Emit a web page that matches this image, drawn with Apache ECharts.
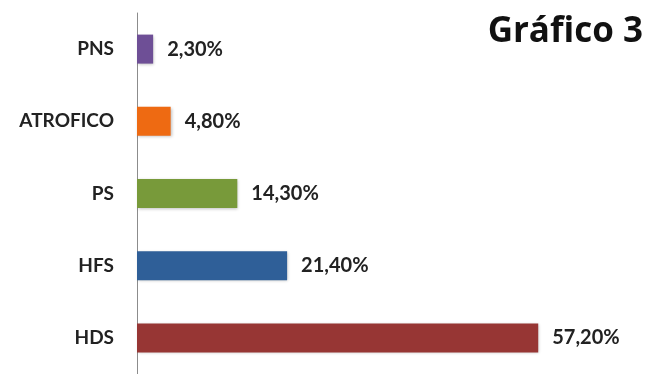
<!DOCTYPE html>
<html>
<head>
<meta charset="utf-8">
<script src="https://cdn.jsdelivr.net/npm/echarts@6/dist/echarts.min.js"></script>
<style>
  html, body { margin: 0; padding: 0; background: #ffffff; }
  #chart { width: 651px; height: 374px; }
</style>
</head>
<body>
<div id="chart"></div>
<script>
// Categories listed bottom-to-top (ECharts category y-axis starts at the bottom)
const categories = ['HDS', 'HFS', 'PS', 'ATROFICO', 'PNS'];
const percentages = [57.2, 21.4, 14.3, 4.8, 2.3];
const barColors = ['#973634', '#2F5F98', '#789A3A', '#EE6A12', '#6E4F96'];
const titleText = 'Gráfico 3';

const fontFamily = 'Lato, "Open Sans", sans-serif';

const chart = echarts.init(document.getElementById('chart'), null, { renderer: 'canvas' });

chart.setOption({
  animation: false,
  backgroundColor: '#ffffff',
  title: {
    text: titleText,
    right: 3,
    top: 10,
    textStyle: { fontFamily: '"Open Sans", Lato, sans-serif', fontWeight: 'bold', fontSize: 35, color: '#111111' }
  },
  grid: { left: 137, top: 13, width: 491, height: 371, containLabel: false },
  xAxis: {
    type: 'value',
    min: 0,
    max: 70,
    show: false
  },
  yAxis: {
    type: 'category',
    data: categories,
    axisLine: { show: true, lineStyle: { color: '#8c8c8c', width: 1 } },
    axisTick: { show: false },
    axisLabel: {
      margin: 23,
      fontFamily: fontFamily,
      fontWeight: 'bold',
      fontSize: 19,
      color: '#222222'
    }
  },
  series: [{
    type: 'bar',
    barWidth: 29,
    data: percentages.map((v, i) => ({
      value: v,
      itemStyle: {
        color: barColors[i],
        shadowColor: 'rgba(0,0,0,0.25)',
        shadowBlur: 3,
        shadowOffsetX: 1,
        shadowOffsetY: 1
      }
    })),
    label: {
      show: true,
      position: 'right',
      distance: 14,
      fontFamily: fontFamily,
      fontWeight: 'bold',
      fontSize: 20,
      color: '#222222',
      formatter: p => p.value.toFixed(2).replace('.', ',') + '%'
    }
  }]
});
</script>
</body>
</html>
